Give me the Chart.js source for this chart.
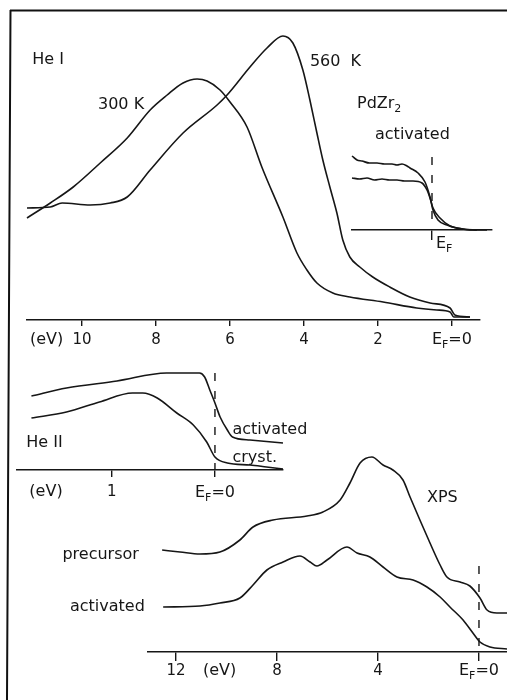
<!DOCTYPE html>
<html>
<head>
<meta charset="utf-8">
<script src="https://cdn.jsdelivr.net/npm/chart.js@4.4.1/dist/chart.umd.min.js"></script>
<style>
  html, body { margin: 0; padding: 0; background: #fff; }
  #page { position: relative; width: 507px; height: 700px; overflow: hidden; background: #fff; }
  #page canvas, #page svg { position: absolute; left: 0; top: 0; }
</style>
</head>
<body>
<div id="page">
  <svg width="507" height="700"><path d="M10,10.5 H507 M10.5,10 L7,700" stroke="#111" stroke-width="2" fill="none"/></svg>
  <canvas id="heI" width="507" height="700"></canvas>
  <canvas id="inset" width="507" height="700"></canvas>
  <canvas id="heII" width="507" height="700"></canvas>
  <canvas id="xps" width="507" height="700"></canvas>
</div>
<script>
// ---- He I spectra (binding energy in eV, intensity in arb. units) ----
const heIEnergy300 = [11.49, 10.86, 10.24, 9.51, 8.78, 8.16, 7.70, 7.27, 6.89, 6.62, 6.27, 6.00, 5.54, 5.14, 4.57, 4.19, 3.92, 3.65, 3.22, 2.76, 1.86, 0.95, 0.41, 0.05, -0.05, -0.49];
const heICounts300 = [102, 117, 133, 157, 182, 210, 225, 237, 241, 239, 230, 218, 193, 153, 103, 67, 50, 37, 27, 23, 18, 12, 10, 8, 3, 3];
const heIEnergy560 = [11.49, 10.86, 10.54, 9.78, 9.24, 8.78, 8.16, 7.27, 6.35, 6.08, 5.46, 5.00, 4.57, 4.30, 4.03, 3.84, 3.65, 3.49, 3.30, 3.11, 2.95, 2.76, 2.49, 2.14, 1.68, 1.14, 0.59, 0.05, -0.08, -0.49];
const heICounts560 = [112, 113, 117, 115, 117, 123, 150, 187, 215, 225, 253, 272, 284, 277, 250, 220, 187, 160, 133, 107, 80, 63, 53, 43, 33, 23, 17, 12, 5, 3];
const heITicks = [10, 8, 6, 4, 2, 0];

// ---- PdZr2 activated, Fermi edge detail ----
const edgeEnergyUpper = [1.60, 1.50, 1.40, 1.25, 1.10, 0.95, 0.80, 0.70, 0.60, 0.50, 0.44, 0.28, 0.14, 0.04, -0.02, -0.12, -0.30, -0.50, -0.82, -1.10];
const edgeCountsUpper = [74, 70, 69, 67, 67, 66, 66, 65, 66, 64, 62, 57, 48, 33, 20, 10, 5, 2, 0, 0];
const edgeEnergyLower = [1.60, 1.45, 1.30, 1.15, 1.00, 0.85, 0.70, 0.55, 0.38, 0.20, 0.10, 0.04, -0.02, -0.16, -0.36, -0.62, -0.90];
const edgeCountsLower = [52, 51, 52, 50, 51, 50, 50, 49, 49, 47, 40, 32, 22, 12, 4, 1, 0];
const edgeTicks = [0];

// ---- He II spectra ----
const heIIEnergyAct = [1.78, 1.44, 0.95, 0.47, 0.15, 0.10, 0.05, 0.00, -0.05, -0.12, -0.17, -0.34, -0.66];
const heIICountsAct = [74, 82, 89, 97, 97, 93, 80, 67, 53, 40, 33, 30, 27];
const heIIEnergyCryst = [1.78, 1.44, 1.12, 0.80, 0.70, 0.56, 0.37, 0.21, 0.08, 0.00, -0.12, -0.34, -0.50, -0.66];
const heIICountsCryst = [52, 58, 68, 77, 77, 72, 57, 45, 28, 13, 7, 5, 3, 1];
const heIITicks = [1, 0];

// ---- XPS spectra ----
const xpsEnergyPre = [12.55, 11.84, 11.05, 10.26, 9.47, 8.95, 8.16, 6.81, 6.18, 5.50, 5.11, 4.71, 4.24, 3.80, 3.41, 3.01, 2.73, 2.34, 1.94, 1.54, 1.27, 0.75, 0.36, -0.04, -0.32, -0.71, -1.11];
const xpsCountsPre = [102, 100, 98, 100, 112, 125, 132, 136, 140, 152, 169, 189, 195, 187, 182, 172, 155, 132, 109, 87, 75, 70, 66, 54, 42, 39, 39];
const xpsEnergyAct = [12.51, 11.05, 10.26, 9.47, 8.95, 8.40, 7.76, 7.09, 6.69, 6.42, 6.02, 5.23, 4.83, 4.32, 3.80, 3.25, 2.61, 2.06, 1.54, 1.15, 0.63, 0.24, -0.04, -0.44, -1.11];
const xpsCountsAct = [45, 46, 49, 54, 67, 82, 90, 96, 90, 86, 92, 105, 99, 95, 85, 75, 72, 65, 55, 45, 32, 19, 10, 5, 3];
const xpsTicks = [12, 8, 4, 0];

const INK = '#161616';
const W = 507, H = 700, AXIS_H = 40;
const TEXT_FONT = '"DejaVu Sans", "Liberation Sans", sans-serif';
Chart.defaults.font.family = TEXT_FONT;
Chart.defaults.font.size = 15;
Chart.defaults.color = INK;

function fontFor(sub) { return (sub ? '11px ' : '16px ') + TEXT_FONT; }

// free text placed in data coordinates; parts are [text, isSubscript]
const notesPlugin = {
  id: 'notes',
  defaults: { items: [] },
  afterDraw(chart, _args, opts) {
    const { ctx } = chart;
    const xs = chart.scales.x, ys = chart.scales.y;
    ctx.save();
    ctx.fillStyle = INK;
    ctx.textBaseline = 'middle';
    for (const n of opts.items || []) {
      const widths = n.parts.map(([t, sub]) => { ctx.font = fontFor(sub); return ctx.measureText(t).width; });
      const total = widths.reduce((a, b) => a + b, 0);
      let px = xs.getPixelForValue(n.e);
      const py = ys.getPixelForValue(n.i);
      if (n.align === 'center') px -= total / 2;
      n.parts.forEach(([t, sub], k) => {
        ctx.font = fontFor(sub);
        ctx.fillText(t, px, py + (sub ? 5 : 0));
        px += widths[k];
      });
    }
    ctx.restore();
  }
};

// dashed marker at the Fermi level (E = 0)
const fermiPlugin = {
  id: 'fermi',
  defaults: { from: null },
  afterDatasetsDraw(chart, _args, opts) {
    if (opts.from == null) return;
    const { ctx } = chart;
    const x = chart.scales.x.getPixelForValue(0);
    ctx.save();
    ctx.strokeStyle = INK;
    ctx.lineWidth = 1.4;
    ctx.setLineDash([8, 10]);
    ctx.beginPath();
    ctx.moveTo(x, chart.scales.y.getPixelForValue(opts.from));
    ctx.lineTo(x, chart.chartArea.bottom);
    ctx.stroke();
    ctx.restore();
  }
};
Chart.register(notesPlugin, fermiPlugin);

function note(text, e, i, align) { return { parts: [[text, 0]], e, i, align: align || 'left' }; }
function fermiLabel(e, i) { return { parts: [['E', 0], ['F', 1], ['=0', 0]], e, i, align: 'center' }; }

function makePanel(id, cfg) {
  const [L, T, R, B] = cfg.area;
  return new Chart(document.getElementById(id), {
    type: 'line',
    data: {
      datasets: cfg.series.map(([xs, ys]) => ({
        data: xs.map((x, k) => ({ x, y: ys[k] })),
        borderColor: INK,
        borderWidth: 1.6,
        pointRadius: 0,
        cubicInterpolationMode: 'monotone',
        fill: false,
        clip: false
      }))
    },
    options: {
      responsive: false,
      animation: false,
      events: [],
      layout: { autoPadding: false, padding: { left: L, top: T, right: W - R, bottom: H - B - AXIS_H } },
      plugins: {
        legend: { display: false },
        tooltip: { enabled: false },
        notes: { items: cfg.notes },
        fermi: { from: cfg.fermiFrom }
      },
      scales: {
        x: {
          type: 'linear',
          reverse: true,
          min: cfg.eMin,
          max: cfg.eMax,
          afterBuildTicks: s => { s.ticks = cfg.ticks.map(v => ({ value: v })); },
          afterFit: s => { s.height = AXIS_H; s.paddingLeft = 0; s.paddingRight = 0; },
          ticks: {
            callback: v => (v === 0 ? '' : String(v)),
            padding: cfg.tickPad,
            maxRotation: 0,
            autoSkip: false
          },
          grid: { drawOnChartArea: false, drawTicks: true, tickLength: cfg.tickLen, color: INK, lineWidth: 1.4 },
          border: { display: true, color: INK, width: 1.6 }
        },
        y: { display: false, min: 0, max: cfg.iMax }
      }
    }
  });
}

makePanel('heI', {
  area: [27, 15, 480, 320], eMin: -0.76, eMax: 11.49, iMax: 305,
  ticks: heITicks, tickLen: 6, tickPad: 5, fermiFrom: null,
  series: [[heIEnergy300, heICounts300], [heIEnergy560, heICounts560]],
  notes: [
    note('He I', 11.35, 260),
    note('300 K', 9.57, 215),
    note('560  K', 3.84, 258),
    note('(eV)', 11.41, -20),
    fermiLabel(0, -20)
  ]
});

makePanel('inset', {
  area: [352, 150, 492, 230], eMin: -1.20, eMax: 1.60, iMax: 80,
  ticks: edgeTicks, tickLen: 10, tickPad: 0, fermiFrom: 73,
  series: [[edgeEnergyUpper, edgeCountsUpper], [edgeEnergyLower, edgeCountsLower]],
  notes: [
    { parts: [['PdZr', 0], ['2', 1]], e: 1.50, i: 126, align: 'left' },
    note('activated', 1.14, 95),
    { parts: [['E', 0], ['F', 1]], e: -0.08, i: -14, align: 'left' }
  ]
});

makePanel('heII', {
  area: [17, 360, 283, 470], eMin: -0.66, eMax: 1.92, iMax: 110,
  ticks: heIITicks, tickLen: 7, tickPad: 6, fermiFrom: 97,
  series: [[heIIEnergyAct, heIICountsAct], [heIIEnergyCryst, heIICountsCryst]],
  notes: [
    note('He II', 1.83, 27),
    note('activated', -0.17, 40),
    note('cryst.', -0.17, 12),
    note('(eV)', 1.80, -22),
    fermiLabel(0, -23)
  ]
});

makePanel('xps', {
  area: [148, 440, 507, 652], eMin: -1.11, eMax: 13.11, iMax: 212,
  ticks: xpsTicks, tickLen: 9, tickPad: 1, fermiFrom: 86,
  series: [[xpsEnergyPre, xpsCountsPre], [xpsEnergyAct, xpsCountsAct]],
  notes: [
    note('XPS', 2.06, 154),
    note('precursor', 16.5, 97),
    note('activated', 16.2, 45),
    note('(eV)', 10.93, -19),
    fermiLabel(0, -19)
  ]
});
</script>
</body>
</html>
